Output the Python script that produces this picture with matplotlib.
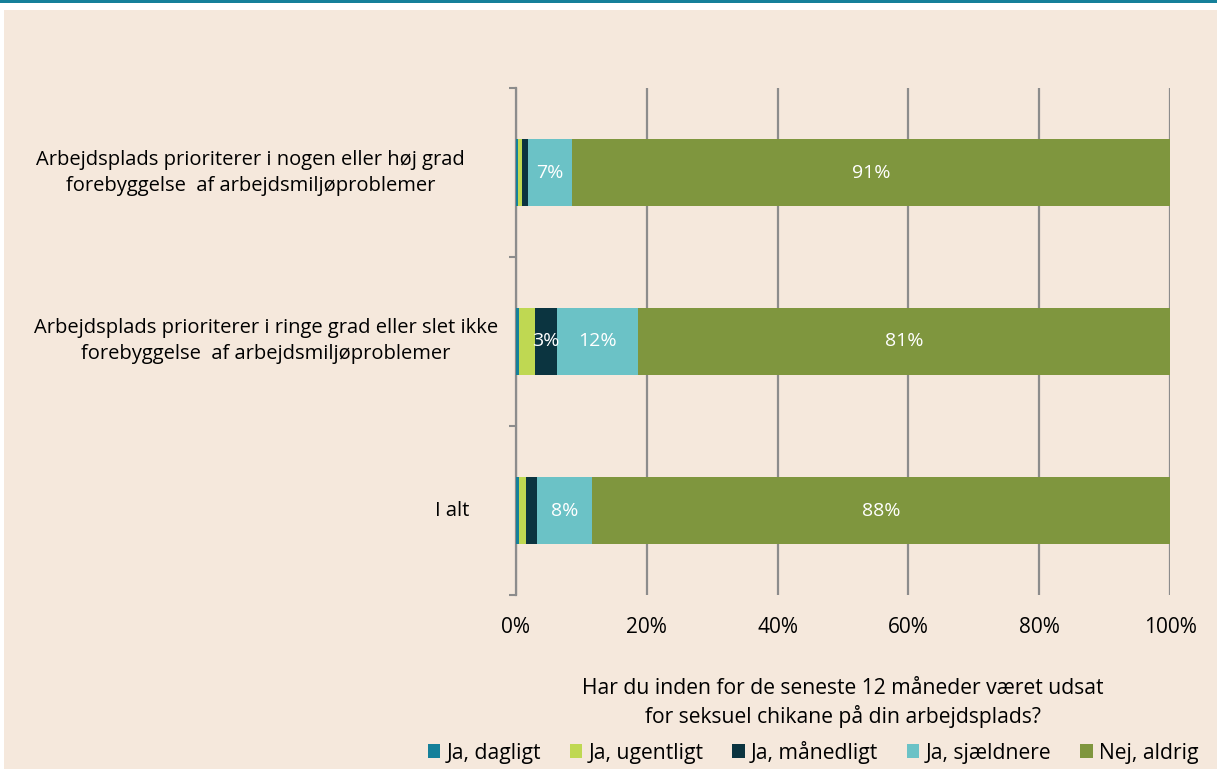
import numpy as np
import matplotlib.pyplot as plt
from matplotlib.patches import Rectangle

plt.rcParams['font.family'] = ['Open Sans', 'DejaVu Sans']

categories = ["I alt",
              "Arbejdsplads prioriterer i ringe grad eller slet ikke\nforebyggelse  af arbejdsmiljøproblemer",
              "Arbejdsplads prioriterer i nogen eller høj grad\nforebyggelse  af arbejdsmiljøproblemer"]
series = ["Ja, dagligt", "Ja, ugentligt", "Ja, månedligt", "Ja, sjældnere", "Nej, aldrig"]
dagligt = [0.4, 0.5, 0.3]
ugentligt = [1.1, 2.4, 0.6]
maanedligt = [1.7, 3.3, 0.9]
sjaeldnere = [8.4, 12.4, 6.8]
aldrig = [88.4, 81.4, 91.4]
colors = ["#15809a", "#bfd852", "#0b3440", "#6bc2c6", "#7f963e"]

bg = "#f5e8dc"
fig = plt.figure(figsize=(12.17, 7.69), dpi=100)
fig.patch.set_facecolor("white")
fig.patches.append(Rectangle((4/1217, 0), 1, 1 - 10/769, transform=fig.transFigure,
                             facecolor=bg, edgecolor="none", zorder=-2))
fig.patches.append(Rectangle((0, 1 - 2.5/769), 1, 2.5/769, transform=fig.transFigure,
                             facecolor="#15809a", edgecolor="none", zorder=-1))

ax = fig.add_axes([516/1217, 1 - 595/769, 654/1217, 507/769])
ax.set_facecolor("none")

y = np.arange(len(categories))
left = np.zeros(len(categories))
for name, vals, c in zip(series, [dagligt, ugentligt, maanedligt, sjaeldnere, aldrig], colors):
    vals = np.array(vals)
    ax.barh(y, vals, left=left, height=0.4, color=c, label=name, zorder=3)
    for yi, l, v in zip(y, left, vals):
        if v >= 3:
            ax.text(l + v / 2, yi, "%.0f%%" % v, ha="center", va="center",
                    color="white", fontsize=14, zorder=4)
    left += vals

ax.set_xlim(0, 100)
ax.set_ylim(-0.5, 2.5)
ax.set_xticks(range(0, 101, 20))
ax.set_xticklabels(["%d%%" % t for t in range(0, 101, 20)], fontsize=15)
ax.tick_params(axis="x", length=0, pad=16)
ax.set_yticks(y)
ax.set_yticklabels([])
ax.tick_params(axis="y", which="major", length=0)
ax.set_yticks([-0.5, 0.5, 1.5, 2.5], minor=True)
ax.tick_params(axis="y", which="minor", length=5, width=1.5, color="#8c8c8c")
ax.grid(axis="x", color="#8c8c8c", linewidth=1.6, zorder=0)
for s in ["top", "right", "bottom"]:
    ax.spines[s].set_visible(False)
ax.spines["left"].set_color("#8c8c8c")
ax.spines["left"].set_linewidth(1.6)

# category labels: right-aligned blocks, lines centred
label_right = [-47, -18, -51]  # pixel offset of block's right edge from the axis
for yi, cat, off in zip(y, categories, label_right):
    ax.annotate(cat, xy=(0, yi), xycoords=("axes fraction", "data"),
                xytext=(off, 0), textcoords="offset pixels",
                ha="right", va="center", multialignment="center",
                fontsize=14.5, linespacing=1.4)

ax.set_xlabel("Har du inden for de seneste 12 måneder været udsat\nfor seksuel chikane på din arbejdsplads?",
              fontsize=15.2, labelpad=29, linespacing=1.32)

fig.legend(loc="center", bbox_to_anchor=(813/1217, 1 - 752/769), ncol=5, frameon=False,
           fontsize=15.2, handlelength=0.6, handleheight=0.6, handletextpad=0.3, columnspacing=1.35)

fig.savefig("out.png", dpi=100, facecolor=fig.get_facecolor())
